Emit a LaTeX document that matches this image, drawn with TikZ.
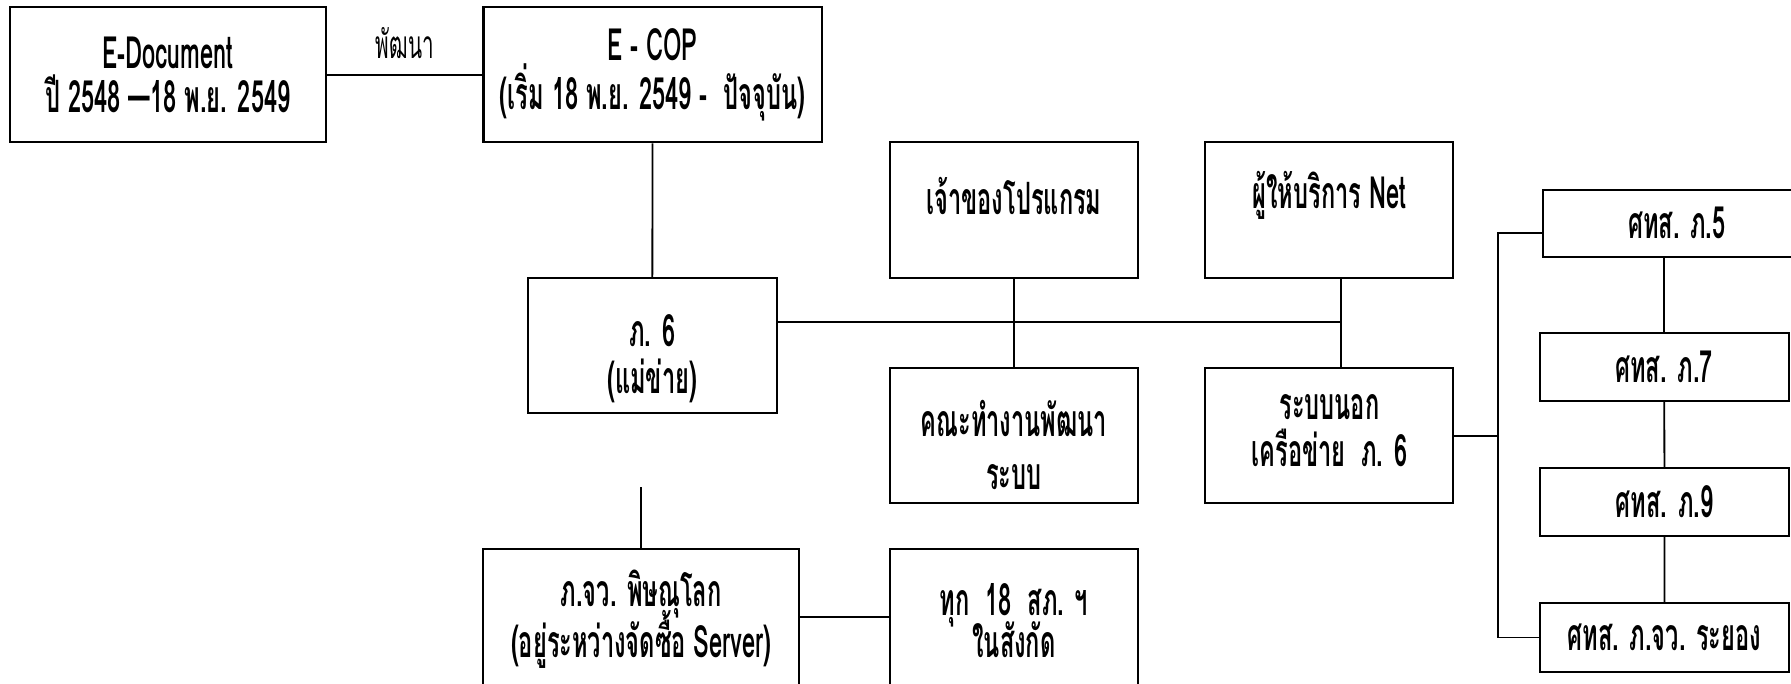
\documentclass[tikz,border=0pt]{standalone}
\usepackage{fontspec}
\newfontfamily\thaifont[Script=Thai,FakeStretch=0.53]{Loma}
\usepackage{tikz}
\newcommand{\liftline}[2]{\raisebox{#1}[\height][\depth]{#2}}

\begin{document}
\begin{tikzpicture}[x=0.5pt, y=-0.5pt, line width=0.8pt,
		box/.style={draw, line width=0.9pt, align=center, inner sep=0pt,
			font=\thaifont\bfseries\fontsize{19.5}{19.5}\selectfont}]
			\useasboundingbox (0,0) rectangle (1568,598);
			\node[box, minimum width=138.4pt, minimum height=59.1pt] (edoc) at (147,65.5) {E-Document\\ปี 2548 —18 พ.ย. 2549};
			\node[box, minimum width=148.1pt, minimum height=59.1pt] (ecop) at (571.4,65.5) {E - COP\\(เริ่ม 18 พ.ย. 2549 -~ ปัจจุบัน)};
			\node[box, minimum width=108.8pt, minimum height=59.5pt] (owner) at (887.7,184.2) {\liftline{6.5pt}{เจ้าของโปรแกรม}};
			\node[box, minimum width=108.6pt, minimum height=59.5pt] (isp) at (1163.8,184.2) {\liftline{6.5pt}{ผู้ให้บริการ Net}};
			\node[box, minimum width=109pt, minimum height=59.1pt] (hub) at (571,302.8) {\liftline{-5.5pt}{ภ. 6}\\[1pt]\liftline{-5.5pt}{(แม่ข่าย)}};
			\node[box, minimum width=108.8pt, minimum height=59pt] (team) at (887.7,381.5) {\liftline{-4pt}{คณะทำงานพัฒนา}\\[4pt]\liftline{-4pt}{ระบบ}};
			\node[box, minimum width=108.6pt, minimum height=59pt] (outer) at (1163.8,381.5) {\liftline{2.25pt}{ระบบนอก}\\[0.7pt]\liftline{2.25pt}{เครือข่าย~ ภ. 6}};
			\node[box, minimum width=138.5pt, minimum height=59.4pt] (phit) at (561.4,540.1) {\liftline{-1pt}{ภ.จว. พิษณุโลก}\\[-4.2pt]\liftline{-1pt}{(อยู่ระหว่างจัดซื้อ Server)}};
			\node[box, minimum width=108.9pt, minimum height=59.4pt] (all18) at (887.7,540.1) {\liftline{-1.75pt}{ทุก~ 18~ สภ. ฯ}\\[-3.5pt]\liftline{-1.75pt}{ในสังกัด}};
			\node[box, minimum width=117pt, minimum height=29.2pt] (s5) at (1468,195.5) {ศทส. ภ.5};
			\node[box, minimum width=109pt, minimum height=29.8pt] (s7) at (1456.9,321) {ศทส. ภ.7};
			\node[box, minimum width=109pt, minimum height=29.5pt] (s9) at (1457.3,439.5) {ศทส. ภ.9};
			\node[box, minimum width=109.2pt, minimum height=29.9pt] (rayong) at (1457.2,558.1) {ศทส. ภ.จว. ระยอง};
			\coordinate (bus) at (1174,282.2);
			\coordinate (trunk) at (1311.8,203.7);
			\coordinate (stub) at (561.4,426.7);
			\draw (edoc) -- node[yshift=14pt, font=\thaifont\fontsize{17}{17}\selectfont] (dev) {พัฒนา} (ecop);
			\draw (ecop) -- (hub);
			\draw (hub.east |- bus) -- (bus);
			\draw (owner) -- (team);
			\draw (isp.south -| bus) -- (outer.north -| bus);
			\draw (outer.east) -- (outer.east -| trunk);
			\draw (s5.west |- trunk) -- (trunk) |- (rayong.west);
			\draw (s5.south -| s7.north) -- (s7.north);
			\draw (s7) -- (s9);
			\draw (s9) -- (rayong);
			\draw (stub) -- (phit);
			\draw (phit) -- (all18);
		\end{tikzpicture}
\end{document}
